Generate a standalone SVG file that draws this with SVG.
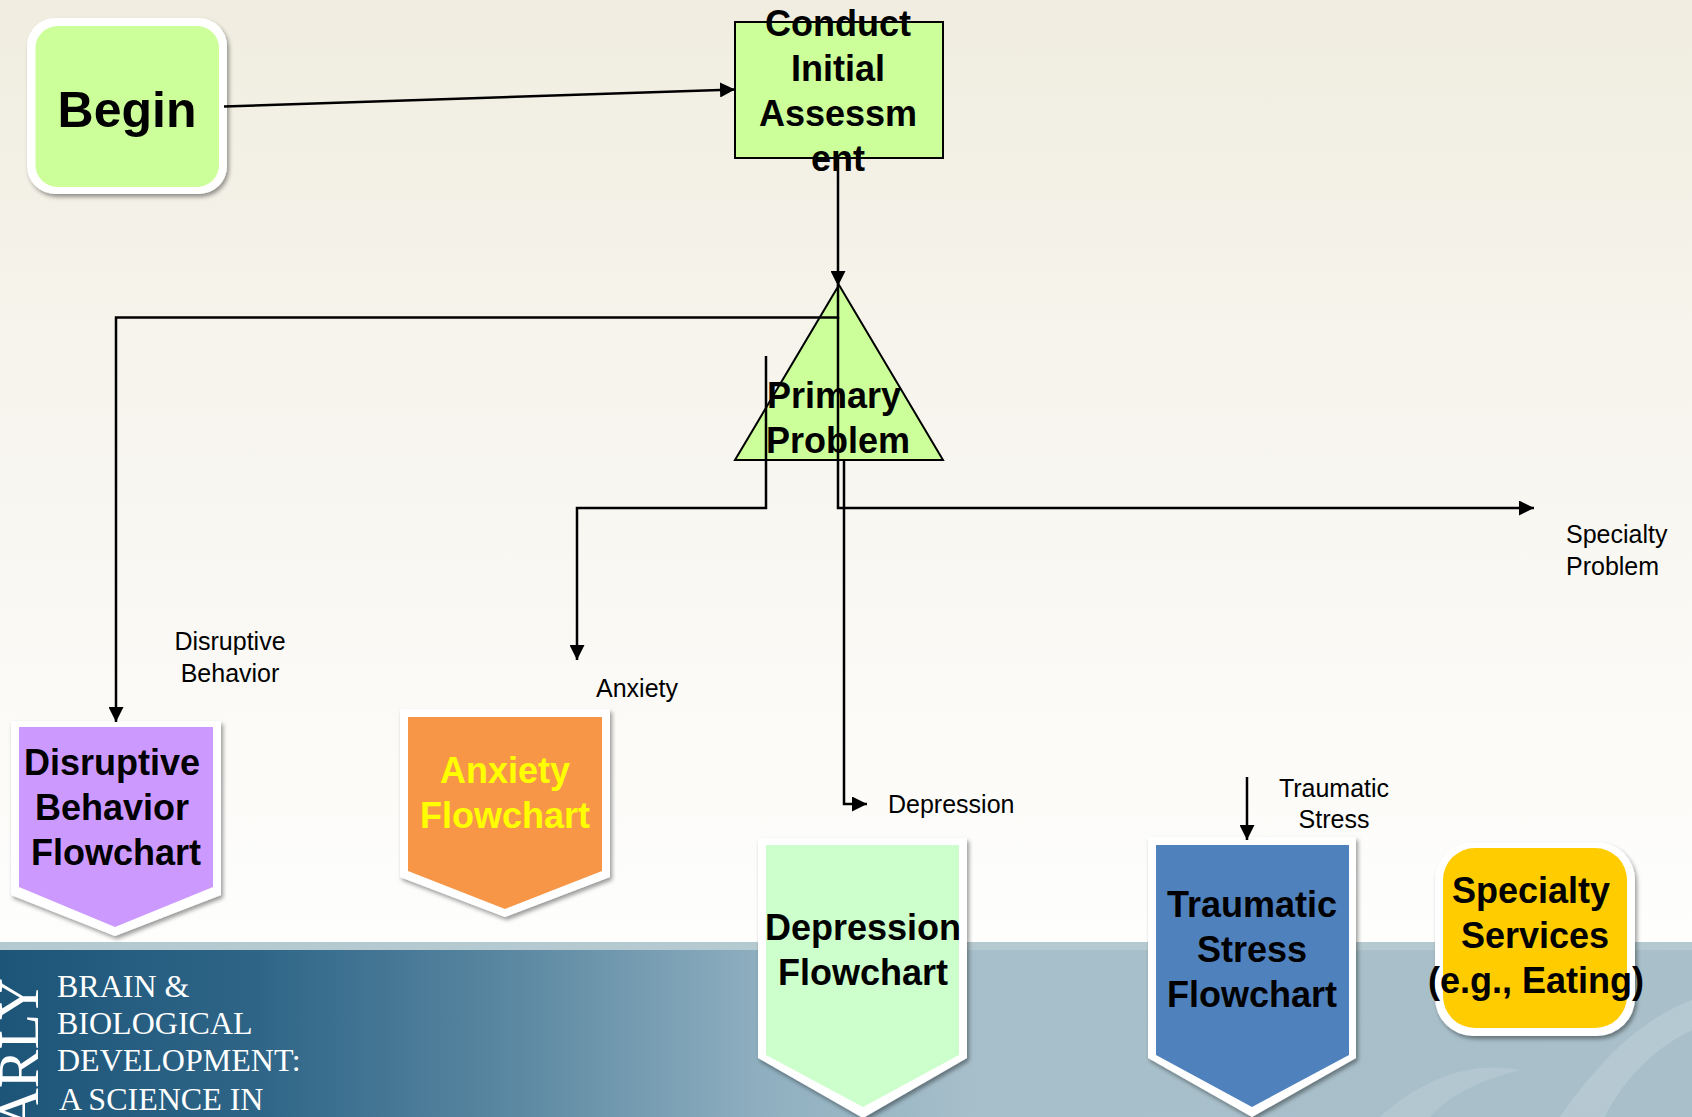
<svg xmlns="http://www.w3.org/2000/svg" width="1692" height="1117" viewBox="0 0 1692 1117">
<defs>
<linearGradient id="bgTop" x1="0" y1="0" x2="0" y2="1">
<stop offset="0" stop-color="#f0ede0"/>
<stop offset="0.5" stop-color="#f8f6f0"/>
<stop offset="1" stop-color="#fefefd"/>
</linearGradient>
<linearGradient id="band" x1="0" y1="0" x2="1" y2="0">
<stop offset="0" stop-color="#1d5579"/>
<stop offset="0.15" stop-color="#2e6587"/>
<stop offset="0.3" stop-color="#5a87a1"/>
<stop offset="0.45" stop-color="#8fafc0"/>
<stop offset="0.58" stop-color="#a7bfca"/>
<stop offset="1" stop-color="#a9c0ca"/>
</linearGradient>
<filter id="shadow" x="-10%" y="-10%" width="130%" height="130%">
<feDropShadow dx="2" dy="3" stdDeviation="2" flood-color="#000" flood-opacity="0.4"/>
</filter>
<marker id="arrow" viewBox="0 0 15 15" refX="15" refY="7.5" markerWidth="15" markerHeight="15" markerUnits="userSpaceOnUse" orient="auto">
<path d="M0,0 L15,7.5 L0,15 Z" fill="#000"/>
</marker>
<style>
.bold{font-family:"Liberation Sans",Arial,sans-serif;font-weight:bold;font-size:36px;text-anchor:middle;fill:#000}
.big{font-size:50px}
.yel{fill:#ffff00}
.lbl{font-family:"Liberation Sans",Arial,sans-serif;font-size:25px;fill:#000}
.ser{font-family:"Liberation Serif","Times New Roman",serif;font-size:32px;fill:#fff}
.conn{fill:none;stroke:#000;stroke-width:2.5}
.box{stroke:#000;stroke-width:2;fill:#ccff99}
.white{fill:#fff;filter:url(#shadow)}
</style>
</defs>

<!-- background -->
<rect x="0" y="0" width="1692" height="945" fill="url(#bgTop)"/>
<rect x="0" y="942" width="1692" height="175" fill="url(#band)"/>
<rect x="0" y="942" width="1692" height="8" fill="#b4c9d0"/>
<path d="M1560,1117 C1600,1060 1640,1020 1692,1000 L1692,1030 C1650,1050 1620,1085 1605,1117 Z" fill="#ffffff" opacity="0.15"/>
<path d="M1380,1117 C1420,1080 1470,1060 1520,1070 C1480,1080 1450,1095 1430,1117 Z" fill="#ffffff" opacity="0.12"/>
<g id="banner-text">
<text class="ser" x="57" y="997">BRAIN  &amp;</text>
<text class="ser" x="57" y="1034">BIOLOGICAL</text>
<text class="ser" x="57" y="1071">DEVELOPMENT:</text>
<text class="ser" x="59" y="1110">A SCIENCE IN</text>
<text transform="translate(38,978) rotate(-90)" font-family="'Liberation Serif','Times New Roman',serif" font-size="58" fill="#fff" text-anchor="end">ARLY</text>
</g>

<!-- nodes -->
<g id="begin">
<rect class="white" x="27" y="18" width="200" height="176" rx="28"/>
<rect x="35.5" y="26" width="183.5" height="161" rx="22" fill="#ccff99"/>
<text class="bold big" x="127" y="127">Begin</text>
</g>

<g id="conduct">
<rect class="box" x="735" y="22" width="208" height="136"/>
<text class="bold" x="838" y="36">Conduct</text>
<text class="bold" x="838" y="81">Initial</text>
<text class="bold" x="838" y="126">Assessm</text>
<text class="bold" x="838" y="171">ent</text>
</g>

<g id="primary">
<polygon class="box" points="839,285 943,460 735,460"/>
<text class="bold" x="834" y="408">Primary</text>
<text class="bold" x="838" y="453">Problem</text>
</g>

<g id="disruptive">
<polygon class="white" points="11,721 221,721 221,895 115,936 11,895"/>
<polygon points="19,727 213,727 213,887 115,927 19,887" fill="#cc99ff"/>
<text class="bold" x="112" y="775">Disruptive</text>
<text class="bold" x="112" y="820">Behavior</text>
<text class="bold" x="116" y="865">Flowchart</text>
</g>

<g id="anxiety">
<polygon class="white" points="400,709 610,709 610,877 505,917 400,877"/>
<polygon points="408,717 602,717 602,871 505,909 408,871" fill="#f79646"/>
<text class="bold yel" x="505" y="783">Anxiety</text>
<text class="bold yel" x="505" y="828">Flowchart</text>
</g>

<g id="depression">
<polygon class="white" points="758,838 967,838 967,1058 863,1118 758,1058"/>
<polygon points="766,845 959,845 959,1055 863,1107 766,1055" fill="#ccffcc"/>
<text class="bold" x="863" y="940">Depression</text>
<text class="bold" x="863" y="985">Flowchart</text>
</g>

<g id="traumatic">
<polygon class="white" points="1148,837 1356,837 1356,1058 1252,1117 1148,1058"/>
<polygon points="1156,845 1349,845 1349,1055 1252,1107 1156,1055" fill="#4f81bd"/>
<text class="bold" x="1252" y="917">Traumatic</text>
<text class="bold" x="1252" y="962">Stress</text>
<text class="bold" x="1252" y="1007">Flowchart</text>
</g>

<g id="specialty">
<rect class="white" x="1435" y="842" width="200" height="194" rx="38"/>
<rect x="1443" y="848" width="184" height="180" rx="32" fill="#ffcc00"/>
<text class="bold" x="1531" y="903">Specialty</text>
<text class="bold" x="1535" y="948">Services</text>
<text class="bold" x="1536" y="993">(e.g., Eating)</text>
</g>

<!-- connectors -->
<g id="connectors">
<line class="conn" x1="224" y1="106.5" x2="735" y2="89.5" marker-end="url(#arrow)"/>
<line class="conn" x1="838" y1="158" x2="838" y2="286" marker-end="url(#arrow)"/>
<polyline class="conn" points="838,285 838,317.5 116,317.5 116,722" marker-end="url(#arrow)"/>
<polyline class="conn" points="766,356 766,508 577,508 577,660" marker-end="url(#arrow)"/>
<polyline class="conn" points="838,317 838,508 1534,508" marker-end="url(#arrow)"/>
<polyline class="conn" points="844,460 844,804 867,804" marker-end="url(#arrow)"/>
<line class="conn" x1="1247" y1="777" x2="1247" y2="840" marker-end="url(#arrow)"/>
</g>

<!-- labels -->
<g id="labels">
<text class="lbl" x="230" y="650" text-anchor="middle">Disruptive</text>
<text class="lbl" x="230" y="682" text-anchor="middle">Behavior</text>
<text class="lbl" x="596" y="697">Anxiety</text>
<text class="lbl" x="1566" y="543">Specialty</text>
<text class="lbl" x="1566" y="575">Problem</text>
<text class="lbl" x="888" y="813">Depression</text>
<text class="lbl" x="1334" y="797" text-anchor="middle">Traumatic</text>
<text class="lbl" x="1334" y="828" text-anchor="middle">Stress</text>
</g>
</svg>
